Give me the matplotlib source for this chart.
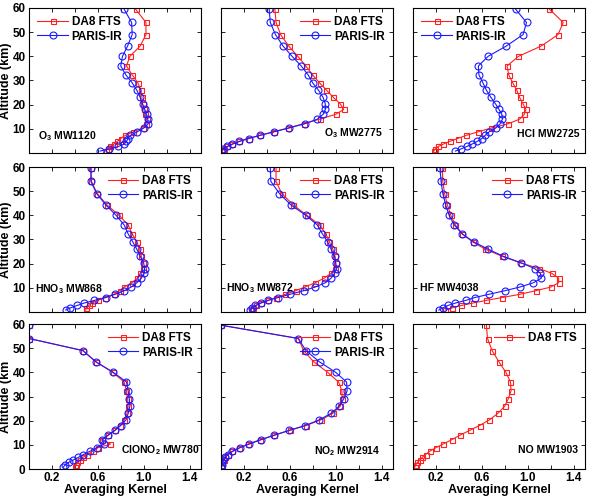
import matplotlib
matplotlib.use("Agg")
import matplotlib.pyplot as plt

plt.rcParams['font.family'] = ['Liberation Sans', 'DejaVu Sans']
plt.rcParams['font.weight'] = 'bold'
plt.rcParams['mathtext.fontset'] = 'custom'
plt.rcParams['mathtext.rm'] = 'Liberation Sans:bold'
plt.rcParams['mathtext.bf'] = 'Liberation Sans:bold'
plt.rcParams['mathtext.it'] = 'Liberation Sans:bold'

# altitude grid (km), top to bottom
alt = [59.5, 54, 49, 44.3, 40, 36, 32.3, 29, 26, 23, 20.3, 18, 16, 14,
       12.1, 10.3, 8.8, 7.3, 6.0, 4.8, 3.7, 2.7, 1.7, 0.8]

titles = [r'O$_\mathbf{3}$ MW1120', r'O$_\mathbf{3}$ MW2775', 'HCl MW2725',
          r'HNO$_\mathbf{3}$ MW868', r'HNO$_\mathbf{3}$ MW872', 'HF MW4038',
          r'ClONO$_\mathbf{2}$ MW780', r'NO$_\mathbf{2}$ MW2914', 'NO MW1903']

da8 = [
    [.93, 1.02, 1.02, .97, .88, .85, .90, .95, .975, .985, .99, 1.00, 1.015, 1.025,
     1.02, .99, .91, .84, .80, .77, .74, .71, .685, .67],
    [.47, .48, .52, .59, .67, .74, .80, .86, .92, .98, 1.04, 1.07, 1.0, .86,
     .72, .58, .46, .34, .24, .16, .10, .055, .025, .01],
    [1.19, 1.31, 1.265, 1.12, .92, .82, .835, .87, .905, .93, .96, .985, .97, .93,
     .83, .68, .57, .465, .39, .32, .265, .22, .195, .18],
    [.54, .545, .595, .68, .785, .865, .90, .94, .965, .98, .99, .99, .97, .945,
     .895, .83, .79, .74, .66, .60, .55, .52, .50, .495],
    [.48, .48, .53, .63, .75, .86, .915, .945, .975, .995, 1.0, .995, .96, .90,
     .82, .73, .65, .56, .48, .41, .35, .305, .275, .26],
    [.255, .26, .275, .30, .33, .37, .43, .52, .63, .78, .94, 1.10, 1.21, 1.27,
     1.27, 1.20, 1.07, .93, .78, .64, .52, .42, .34, .28],
    [0.0, 0.0, .47, .585, .73, .83, .85, .86, .865, .855, .83, .795, .75, .69,
     .64, .71, .60, .555, .51, .47, .445, .42, .41, .40],
    [0.0, .675, .72, .81, .93, 1.025, 1.055, 1.055, 1.04, .975, .87, .74, .60, .465,
     .34, .235, .16, .10, .06, .038, .022, .013, .006, .002],
    [.64, .65, .69, .75, .81, .85, .855, .83, .80, .74, .665, .58, .495, .41,
     .337, .262, .198, .145, .11, .08, .058, .038, .023, .015],
]

paris = [
    [.83, .895, .90, .86, .815, .80, .845, .90, .94, .97, .99, 1.01, 1.025, 1.035,
     1.04, 1.0, .945, .885, .865, .85, .83, .78, .70, .62],
    [.42, .43, .475, .54, .62, .70, .76, .80, .85, .89, .91, .91, .89, .84,
     .73, .59, .465, .34, .24, .16, .10, .055, .02, 0.0],
    [.895, .99, .96, .815, .655, .57, .575, .61, .64, .68, .72, .75, .775, .78,
     .76, .72, .665, .63, .60, .56, .515, .47, .42, .37],
    [.54, .54, .59, .67, .76, .83, .865, .905, .94, .97, 1.0, 1.008, 1.005, .98,
     .94, .89, .83, .75, .67, .57, .48, .42, .36, .32],
    [.43, .435, .51, .61, .74, .84, .885, .93, .96, .99, 1.0, 1.01, .99, .96,
     .91, .82, .72, .60, .50, .41, .345, .30, .27, .255],
    [.235, .245, .26, .285, .315, .36, .43, .53, .655, .79, .945, 1.06, 1.11, 1.12,
     1.05, .93, .80, .66, .54, .46, .37, .305, .26, .225],
    [0.0, 0.0, .47, .585, .735, .85, .865, .875, .88, .865, .845, .80, .75, .69,
     .635, .655, .59, .53, .475, .43, .385, .345, .315, .30],
    [0.0, .675, .74, .86, 1.0, 1.095, 1.10, 1.07, 1.03, .96, .855, .735, .595, .465,
     .35, .245, .165, .10, .058, .036, .02, .012, .005, 0.0],
    None,
]

legend_loc = ['upper left', 'upper right', 'upper left',
              'upper right', 'upper right', 'upper right',
              'upper right', 'upper right', 'upper right']
# label positions (axes coords) and alignment
lab_pos = [(0.05, 0.12, 'left'), (0.94, 0.14, 'right'), (0.97, 0.13, 'right'),
           (0.035, 0.16, 'left'), (0.03, 0.165, 'left'), (0.04, 0.165, 'left'),
           (0.99, 0.13, 'right'), (0.925, 0.125, 'right'), (0.96, 0.13, 'right')]

xticks = [0.2, 0.4, 0.6, 0.8, 1.0, 1.2, 1.4]
xticklabels = ['0.2', '', '0.6', '', '1.0', '', '1.4']
yticks = [0, 10, 20, 30, 40, 50, 60]

fig = plt.figure(figsize=(5.96, 4.98), dpi=100)
W, H = 596, 498
lefts = [29, 221, 413]
tops = [8, 167, 324]
aw, ah = 172, 145

for i in range(9):
    r, c = divmod(i, 3)
    ax = fig.add_axes([lefts[c] / W, 1 - (tops[r] + ah) / H, aw / W, ah / H])
    ax.plot(da8[i], alt, '-', color='#ff2020', lw=0.8, marker='s', ms=3.6,
            mfc='none', mec='#ff2020', mew=0.8, label='DA8 FTS')
    if paris[i] is not None:
        ax.plot(paris[i], alt, '-', color='#1a1aff', lw=0.8, marker='o', ms=5,
                mfc='none', mec='#1a1aff', mew=0.8, label='PARIS-IR')
    ax.set_xlim(0, 1.5)
    ax.set_ylim(0, 60)
    ax.set_xticks(xticks)
    ax.set_yticks(yticks)
    if r == 2:
        ax.set_xticklabels(xticklabels)
        ax.set_xlabel('Averaging Kernel', fontsize=9, fontweight='bold', labelpad=0)
        ax.set_yticklabels([str(v) for v in yticks])
    else:
        ax.set_xticklabels([])
        ax.set_yticklabels([''] + [str(v) for v in yticks[1:]])
    if c != 0:
        ax.set_yticklabels([])
    else:
        ax.set_ylabel('Altitude (km)' if r < 2 else 'Altitude (km', fontsize=9,
                      fontweight='bold', labelpad=0.5)
    ax.tick_params(direction='in', top=True, right=True, length=3, width=0.6,
                   labelsize=8.5, pad=2.5)
    for s in ax.spines.values():
        s.set_linewidth(0.8)
    ax.legend(loc=legend_loc[i], frameon=False, handlelength=2.6,
              handletextpad=0.3, labelspacing=0.2, borderaxespad=0.3,
              prop={'weight': 'bold', 'size': 8.5})
    x, y, ha = lab_pos[i]
    ax.text(x, y, titles[i], transform=ax.transAxes, ha=ha, va='center',
            fontsize=7.5, fontweight='bold')

fig.savefig('out.png', dpi=100)
